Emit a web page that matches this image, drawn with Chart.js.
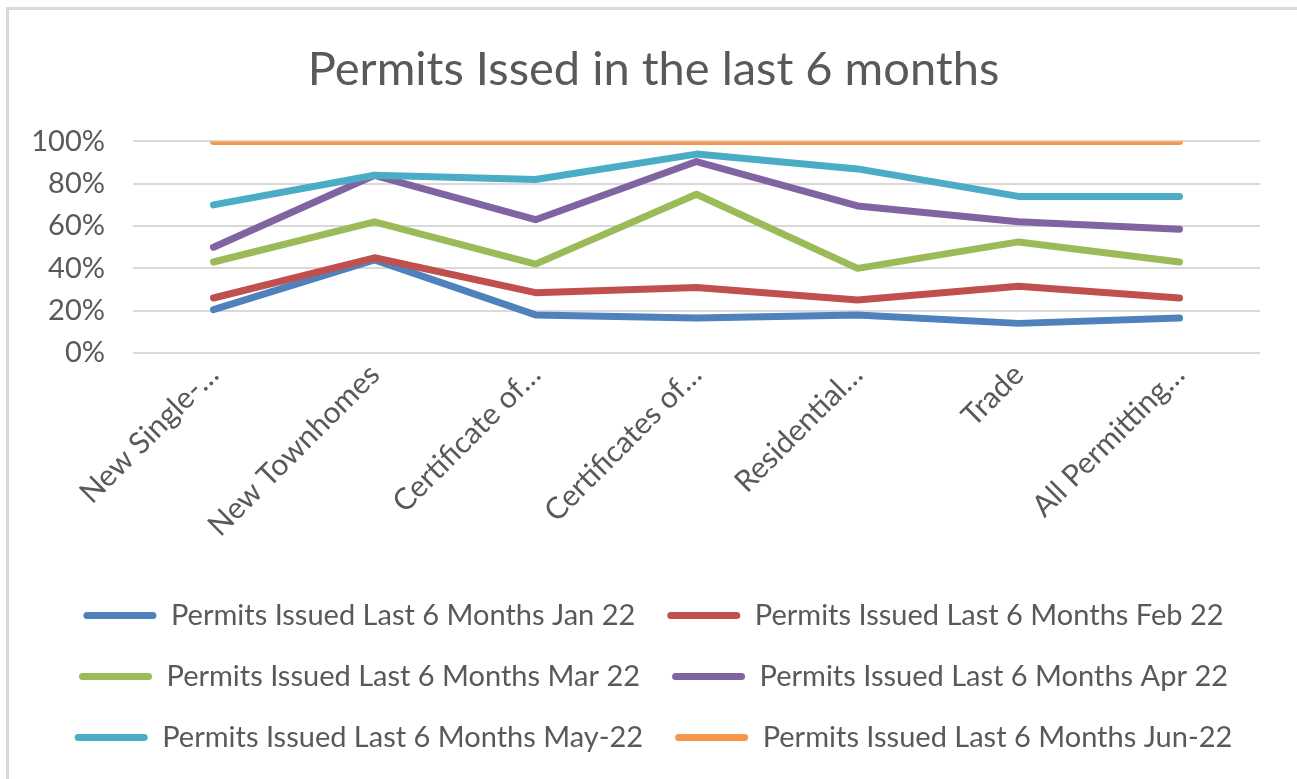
<!DOCTYPE html>
<html lang="en">
<head>
    <meta charset="UTF-8">
    <title>Permits Issed in the last 6 months</title>
    <script src="https://cdn.jsdelivr.net/npm/chart.js"></script>
    <style>
        body {
            margin: 0;
            padding: 0;
            background: #ffffff;
            overflow: hidden;
        }

        .chart-wrap {
            position: relative;
            width: 1297px;
            height: 779px;
        }

        /* light frame of the chart object, only top and left edges are visible */
        .frame {
            position: absolute;
            left: 6px;
            top: 7px;
            width: 1400px;
            height: 900px;
            border-left: 3px solid #d9d9d9;
            border-top: 3px solid #d9d9d9;
            pointer-events: none;
        }
    </style>
</head>
<body>
    <div class="chart-wrap">
        <canvas id="permitsChart" width="1297" height="779"></canvas>
        <div class="frame"></div>
    </div>

    <script>
        // Data (percent of permits issued)
        const categories = ['New Single-\u2026', 'New Townhomes', 'Certificate of\u2026', 'Certificates of\u2026', 'Residential\u2026', 'Trade', 'All Permitting\u2026'];
        const jan22 = [20.5, 44, 18, 16.5, 18, 14, 16.5];
        const feb22 = [26, 45, 28.5, 31, 25, 31.5, 26];
        const mar22 = [43, 62, 42, 75, 40, 52.5, 43];
        const apr22 = [50, 84, 63, 90.5, 69.5, 62, 58.5];
        const may22 = [70, 84, 82, 94, 87, 74, 74];
        const jun22 = [100, 100, 100, 100, 100, 100, 100];

        const seriesNames = [
            'Permits Issued Last 6 Months Jan 22',
            'Permits Issued Last 6 Months Feb 22',
            'Permits Issued Last 6 Months Mar 22',
            'Permits Issued Last 6 Months Apr 22',
            'Permits Issued Last 6 Months May-22',
            'Permits Issued Last 6 Months Jun-22'
        ];
        const seriesData = [jan22, feb22, mar22, apr22, may22, jun22];
        const colors = ['#4f81bd', '#c0504d', '#9bbb59', '#8064a2', '#4bacc6', '#f79646'];

        const textColor = '#595959';
        const fontFamily = 'Lato, "Open Sans", sans-serif';

        const datasets = seriesData.map((values, i) => ({
            label: seriesNames[i],
            data: values,
            borderColor: colors[i],
            backgroundColor: colors[i],
            borderWidth: 7,
            borderCapStyle: 'round',
            borderJoinStyle: 'round',
            pointRadius: 0,
            tension: 0,
            // later series sit on top, like in Excel
            order: seriesData.length - i
        }));

        const ctx = document.getElementById('permitsChart').getContext('2d');

        new Chart(ctx, {
            type: 'line',
            data: {
                labels: categories,
                datasets: datasets
            },
            options: {
                responsive: false,
                animation: false,
                layout: {
                    padding: { top: 0, left: 10, right: 0, bottom: 17 }
                },
                plugins: {
                    title: {
                        display: true,
                        text: 'Permits Issed in the last 6 months',
                        color: textColor,
                        font: { family: fontFamily, size: 47, weight: 'normal' },
                        padding: { top: 42, bottom: 43 }
                    },
                    legend: {
                        position: 'bottom',
                        labels: {
                            color: textColor,
                            font: { family: fontFamily, size: 29 },
                            boxWidth: 73,
                            boxHeight: 7,
                            useBorderRadius: true,
                            borderRadius: 3.5,
                            padding: 32,
                            generateLabels: (chart) => {
                                const items = Chart.defaults.plugins.legend.labels.generateLabels(chart);
                                items.sort((a, b) => a.datasetIndex - b.datasetIndex);
                                items.forEach(item => {
                                    item.lineWidth = 0;
                                    item.fillStyle = colors[item.datasetIndex];
                                });
                                return items;
                            }
                        }
                    },
                    tooltip: { enabled: false }
                },
                scales: {
                    x: {
                        offset: true,
                        grid: { display: false, drawTicks: false },
                        border: { display: false },
                        ticks: {
                            color: textColor,
                            font: { family: fontFamily, size: 30 },
                            minRotation: 45,
                            maxRotation: 45,
                            autoSkip: false,
                            padding: 4
                        },
                        afterFit: (scale) => {
                            scale.height = 216;
                        }
                    },
                    y: {
                        min: 0,
                        max: 100,
                        grid: { color: '#d9d9d9', lineWidth: 2, drawTicks: false },
                        border: { display: false },
                        ticks: {
                            stepSize: 20,
                            autoSkip: false,
                            color: textColor,
                            font: { family: fontFamily, size: 29 },
                            padding: 28,
                            callback: (value) => value + '%'
                        },
                        afterFit: (scale) => {
                            scale.width = 123;
                        }
                    },
                    // empty axis that only keeps the right margin of the plot
                    yRight: {
                        position: 'right',
                        min: 0,
                        max: 100,
                        grid: { display: false, drawTicks: false },
                        border: { display: false },
                        ticks: { display: false },
                        afterFit: (scale) => {
                            scale.width = 37;
                        }
                    }
                }
            }
        });
    </script>
</body>
</html>
